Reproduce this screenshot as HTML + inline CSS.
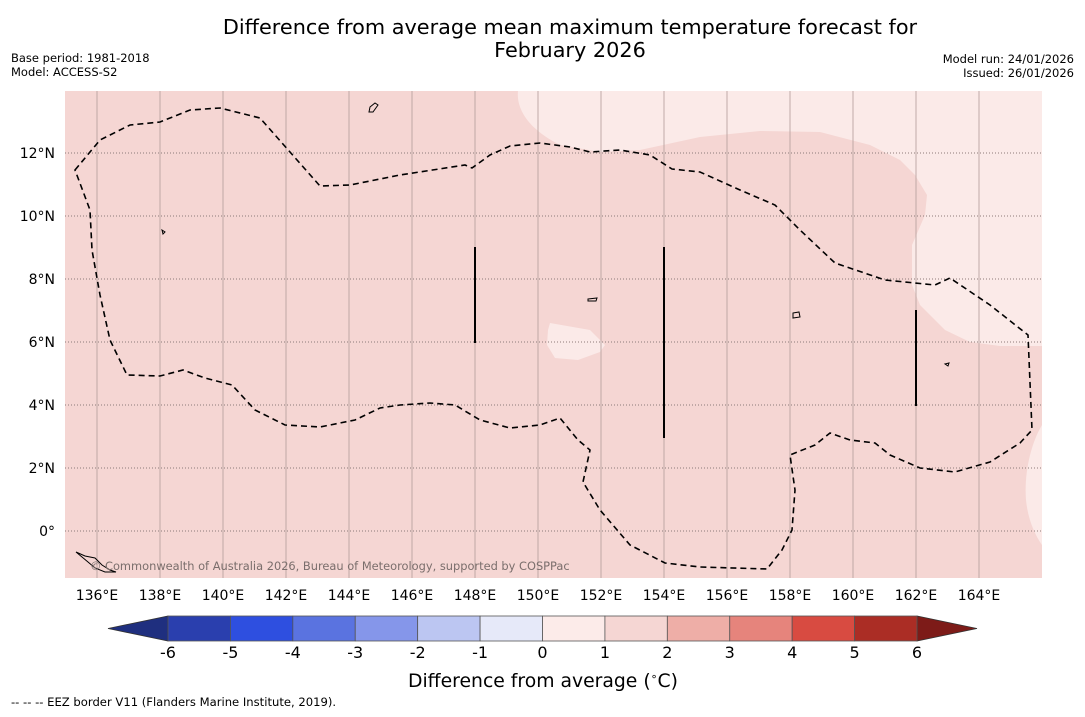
<!DOCTYPE html>
<html><head><meta charset="utf-8"><style>
body{margin:0;background:#fff;width:1085px;height:713px;overflow:hidden;font-family:"DejaVu Sans","Liberation Sans",sans-serif}
svg text{font-family:"DejaVu Sans","Liberation Sans",sans-serif}
</style></head><body>
<svg id="s" width="1085" height="713" xmlns="http://www.w3.org/2000/svg">
<text x="570" y="34" font-size="20.8" text-anchor="middle">Difference from average mean maximum temperature forecast for</text>
<text x="570" y="57" font-size="20.8" text-anchor="middle">February 2026</text>
<text x="11" y="62" font-size="11.5">Base period: 1981-2018</text>
<text x="11" y="76" font-size="11.5">Model: ACCESS-S2</text>
<text x="1074" y="63" font-size="11.5" text-anchor="end">Model run: 24/01/2026</text>
<text x="1074" y="77" font-size="11.5" text-anchor="end">Issued: 26/01/2026</text>
<defs><clipPath id="mc"><rect x="65" y="91" width="977" height="487"/></clipPath></defs>
<g clip-path="url(#mc)">
<rect x="65" y="91" width="977" height="487" fill="#f5d6d3"/>
<path d="M518,91 C516,110 530,130 560,145 L600,152 640,150 700,137 760,131 820,132 870,145 900,160 915,175 927,195 925,215 912,245 912,285 920,305 945,330 970,342 1000,346 1042,346 1042,91 Z" fill="#fbeae8"/>
<path d="M1042,425 C1030,445 1024,475 1026,500 C1028,520 1035,535 1042,545 Z" fill="#fbeae8"/>
<path d="M550,323 L590,330 605,345 600,352 578,360 555,358 547,345 548,330 Z" fill="#fbeae8"/>
<g id="grid"></g>
<path d="M75,170 L100,140 130,125 160,122 190,110 220,108 260,118 320,186 350,185 400,175 465,165 472,168 490,155 510,146 540,143 570,147 590,152 620,150 650,155 672,169 700,172 740,190 775,205 800,230 835,263 885,280 935,285 950,278 990,305 1028,335 1032,430 1020,443 990,462 955,472 920,468 890,455 875,443 850,440 830,433 815,445 790,455 795,490 792,530 782,550 767,569 700,567 665,563 630,545 600,510 583,482 590,450 578,440 560,418 540,425 510,428 480,420 455,405 430,403 400,405 380,408 355,420 320,427 285,425 255,410 232,385 205,378 183,370 160,376 127,375 110,340 100,295 92,250 90,210 Z" fill="none" stroke="#000" stroke-width="1.6" stroke-dasharray="6,4"/>
<g stroke="#000" stroke-width="2">
<line x1="475" y1="247" x2="475" y2="343"/><line x1="664" y1="247" x2="664" y2="438"/><line x1="916" y1="310" x2="916" y2="406"/></g>
<g fill="none" stroke="#000" stroke-width="1">
<path d="M76,552 L85,556 95,558 102,565 110,570 116,572 105,572 95,568 88,562 Z"/>
<path d="M370,107 L375,103 378,105 373,112 369,112 Z"/>
<path d="M162,230 L165,232 163,234 Z"/><path d="M588,299 L597,298 596,301 588,301 Z"/>
<path d="M793,313 L799,312 800,317 793,318 Z"/><path d="M945,364 L949,363 948,366 Z"/>
</g>
<text x="90" y="570" font-size="11.4" fill="#7a6e6c">© Commonwealth of Australia 2026, Bureau of Meteorology, supported by COSPPac</text>
</g>
<g id="ticks"></g>
<g id="cbar"></g>
<text x="543" y="687" font-size="18.8" text-anchor="middle">Difference from average (<tspan font-size="11" dy="-7">∘</tspan><tspan dy="7">C)</tspan></text>
<text x="11" y="706" font-size="11.6">--  --  -- EEZ border V11 (Flanders Marine Institute, 2019).</text>
</svg>
<script>
const lonTicks=[136,138,140,142,144,146,148,150,152,154,156,158,160,162,164];
const latTicks=[0,2,4,6,8,10,12];
const cbLevels=[-6,-5,-4,-3,-2,-1,0,1,2,3,4,5,6];
const cbColors=["#2a3fae","#2e4fe0","#5a73e0","#8596ea","#bcc6f2","#e6e9f9","#fcebe9","#f5d6d3","#eeaea7","#e6847c","#d84b41","#ab2d25"];
const NS="http://www.w3.org/2000/svg";
const xLon=l=>97+(l-136)*31.5;
const yLat=l=>531-l*31.5;
const xCb=v=>168+(v+6)*(917-168)/12;
function mk(t,a,p){const e=document.createElementNS(NS,t);for(const k in a)e.setAttribute(k,a[k]);p.appendChild(e);return e;}
const grid=document.getElementById('grid'),ticks=document.getElementById('ticks'),cb=document.getElementById('cbar');
lonTicks.forEach(l=>{
 const ln=mk('line',{x1:xLon(l),x2:xLon(l),y1:91,y2:578,stroke:'#b9a3a0','stroke-width':0.9},grid);
 
 
 const t=mk('text',{x:xLon(l),y:600,'font-size':14,'text-anchor':'middle'},ticks);
 t.textContent=l+'°E';
 
 
});
latTicks.forEach(l=>{
 const ln=mk('line',{x1:65,x2:1042,y1:yLat(l),y2:yLat(l),stroke:'#8c7a78','stroke-width':1,'stroke-dasharray':'1,2'},grid);
 
 
 const t=mk('text',{x:55,y:yLat(l)+5,'font-size':14,'text-anchor':'end'},ticks);
 t.textContent=l===0?'0°':l+'°N';
 
 
});
const y0=616,y1=641;
const lt=mk('polygon',{points:`108,628.5 ${xCb(-6)},${y0} ${xCb(-6)},${y1}`,fill:'#1f2f7f',stroke:'#333','stroke-width':0.8},cb);


const rt=mk('polygon',{points:`977,628.5 ${xCb(6)},${y0} ${xCb(6)},${y1}`,fill:'#7d1b18',stroke:'#333','stroke-width':0.8},cb);


cbColors.forEach((c,i)=>{
 const r=mk('rect',{x:xCb(cbLevels[i]),y:y0,width:xCb(cbLevels[i+1])-xCb(cbLevels[i]),height:y1-y0,fill:c,stroke:'#555','stroke-width':0.8},cb);
 
 
});
cbLevels.forEach(v=>{
 const t=mk('text',{x:xCb(v),y:658,'font-size':16,'text-anchor':'middle'},cb);
 t.textContent=v;
 
 
});
</script>
</body></html>
